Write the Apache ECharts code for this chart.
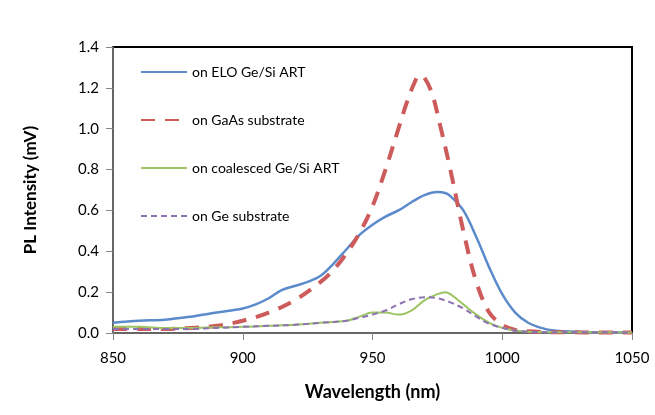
<!DOCTYPE html>
<html>
<head>
<meta charset="utf-8">
<script src="https://cdn.jsdelivr.net/npm/echarts@6/dist/echarts.min.js"></script>
<style>
  html, body { margin: 0; padding: 0; background: #fff; }
  #chart { width: 655px; height: 415px; }
</style>
</head>
<body>
<div id="chart"></div>
<script>
// 图例名称
const seriesNames = [
  "on ELO Ge/Si ART",
  "on GaAs substrate",
  "on coalesced Ge/Si ART",
  "on Ge substrate",
];

// 波长 (nm) / 强度 (mV)
const eloWl = [850, 860, 870, 880, 890, 900, 905, 910, 915, 920, 925, 930, 935, 940, 945, 950, 955, 960, 965, 970, 975, 978, 980, 985, 990, 995, 1000, 1005, 1010, 1015, 1020, 1030, 1040, 1050];
const eloVal = [0.05, 0.06, 0.065, 0.08, 0.10, 0.12, 0.14, 0.17, 0.21, 0.23, 0.25, 0.28, 0.34, 0.41, 0.48, 0.53, 0.57, 0.60, 0.64, 0.675, 0.69, 0.685, 0.67, 0.60, 0.47, 0.32, 0.19, 0.10, 0.05, 0.025, 0.012, 0.005, 0.003, 0.002];

const gaasWl = [850, 860, 870, 880, 890, 900, 910, 920, 930, 935, 940, 945, 950, 955, 960, 963, 966, 968, 970, 973, 976, 980, 985, 990, 995, 1000, 1005, 1010, 1020, 1050];
const gaasVal = [0.02, 0.02, 0.02, 0.025, 0.035, 0.06, 0.10, 0.16, 0.25, 0.31, 0.39, 0.49, 0.62, 0.80, 1.00, 1.12, 1.22, 1.26, 1.25, 1.17, 1.02, 0.80, 0.50, 0.25, 0.10, 0.04, 0.015, 0.008, 0.004, 0.002];

const coalWl = [850, 860, 870, 880, 890, 900, 910, 920, 930, 940, 945, 950, 955, 960, 965, 970, 975, 978, 980, 985, 990, 995, 1000, 1005, 1010, 1020, 1050];
const coalVal = [0.03, 0.03, 0.025, 0.025, 0.028, 0.03, 0.035, 0.04, 0.05, 0.06, 0.08, 0.10, 0.10, 0.09, 0.11, 0.16, 0.19, 0.20, 0.19, 0.14, 0.09, 0.05, 0.025, 0.012, 0.006, 0.004, 0.003];

const geWl = [850, 860, 870, 880, 890, 900, 910, 920, 930, 940, 945, 950, 955, 960, 965, 970, 975, 980, 985, 990, 995, 1000, 1005, 1010, 1020, 1050];
const geVal = [0.02, 0.02, 0.02, 0.02, 0.025, 0.03, 0.035, 0.04, 0.05, 0.06, 0.075, 0.09, 0.11, 0.14, 0.165, 0.175, 0.17, 0.15, 0.12, 0.08, 0.045, 0.025, 0.012, 0.006, 0.004, 0.003];

// 坐标轴刻度
const xTicks = [850, 900, 950, 1000, 1050];
const yTicks = [0, 0.2, 0.4, 0.6, 0.8, 1.0, 1.2, 1.4];

const pair = (xs, ys) => xs.map((x, i) => [x, ys[i]]);

const labelFont = "Lato, 'Open Sans', sans-serif";

const lineSeries = (name, data, color, width, type) => ({
  name,
  type: "line",
  data,
  smooth: 0.35,
  symbol: "none",
  lineStyle: { color, width, type },
  itemStyle: { color },
});

const chart = echarts.init(document.getElementById("chart"));
chart.setOption({
  animation: false,
  grid: {
    left: 113,
    right: 23,
    top: 47,
    bottom: 82,
    show: true,
    borderColor: "#000",
    borderWidth: 2,
    backgroundColor: "#fff",
  },
  legend: {
    orient: "vertical",
    left: 135,
    top: 60,
    itemWidth: 46,
    itemHeight: 14,
    itemGap: 34,
    itemStyle: { opacity: 0 },
    textStyle: {
      fontFamily: labelFont,
      fontSize: 14,
      color: "#000",
    },
    data: seriesNames,
  },
  xAxis: {
    type: "value",
    min: xTicks[0],
    max: xTicks[xTicks.length - 1],
    interval: 50,
    name: "Wavelength (nm)",
    nameLocation: "middle",
    nameGap: 50,
    nameTextStyle: {
      fontFamily: labelFont,
      fontWeight: "bold",
      fontSize: 18,
      color: "#000",
    },
    axisLine: { lineStyle: { color: "#888", width: 1.5 } },
    axisTick: { show: true, length: 7, lineStyle: { color: "#888" } },
    axisLabel: {
      fontFamily: labelFont,
      fontSize: 15,
      color: "#000",
      margin: 18,
      formatter: (v) => String(v),
    },
    splitLine: { show: false },
  },
  yAxis: {
    type: "value",
    min: yTicks[0],
    max: yTicks[yTicks.length - 1],
    interval: 0.2,
    name: "PL Intensity (mV)",
    nameLocation: "middle",
    nameGap: 74,
    nameRotate: 90,
    nameTextStyle: {
      fontFamily: labelFont,
      fontWeight: "bold",
      fontSize: 17,
      color: "#000",
    },
    axisLine: { show: true, lineStyle: { color: "#888", width: 1.5 } },
    axisTick: { show: true, length: 7, lineStyle: { color: "#888" } },
    axisLabel: {
      fontFamily: labelFont,
      fontSize: 15,
      color: "#000",
      margin: 14,
      formatter: (v) => v.toFixed(1),
    },
    splitLine: { show: false },
  },
  series: [
    lineSeries(seriesNames[0], pair(eloWl, eloVal), "#5B8BCB", 2.5, "solid"),
    lineSeries(seriesNames[1], pair(gaasWl, gaasVal), "#CD5B5B", 4, [14, 10]),
    lineSeries(seriesNames[2], pair(coalWl, coalVal), "#9CC463", 2, "solid"),
    lineSeries(seriesNames[3], pair(geWl, geVal), "#8D72B3", 2, [6, 4]),
  ],
});
</script>
</body>
</html>
